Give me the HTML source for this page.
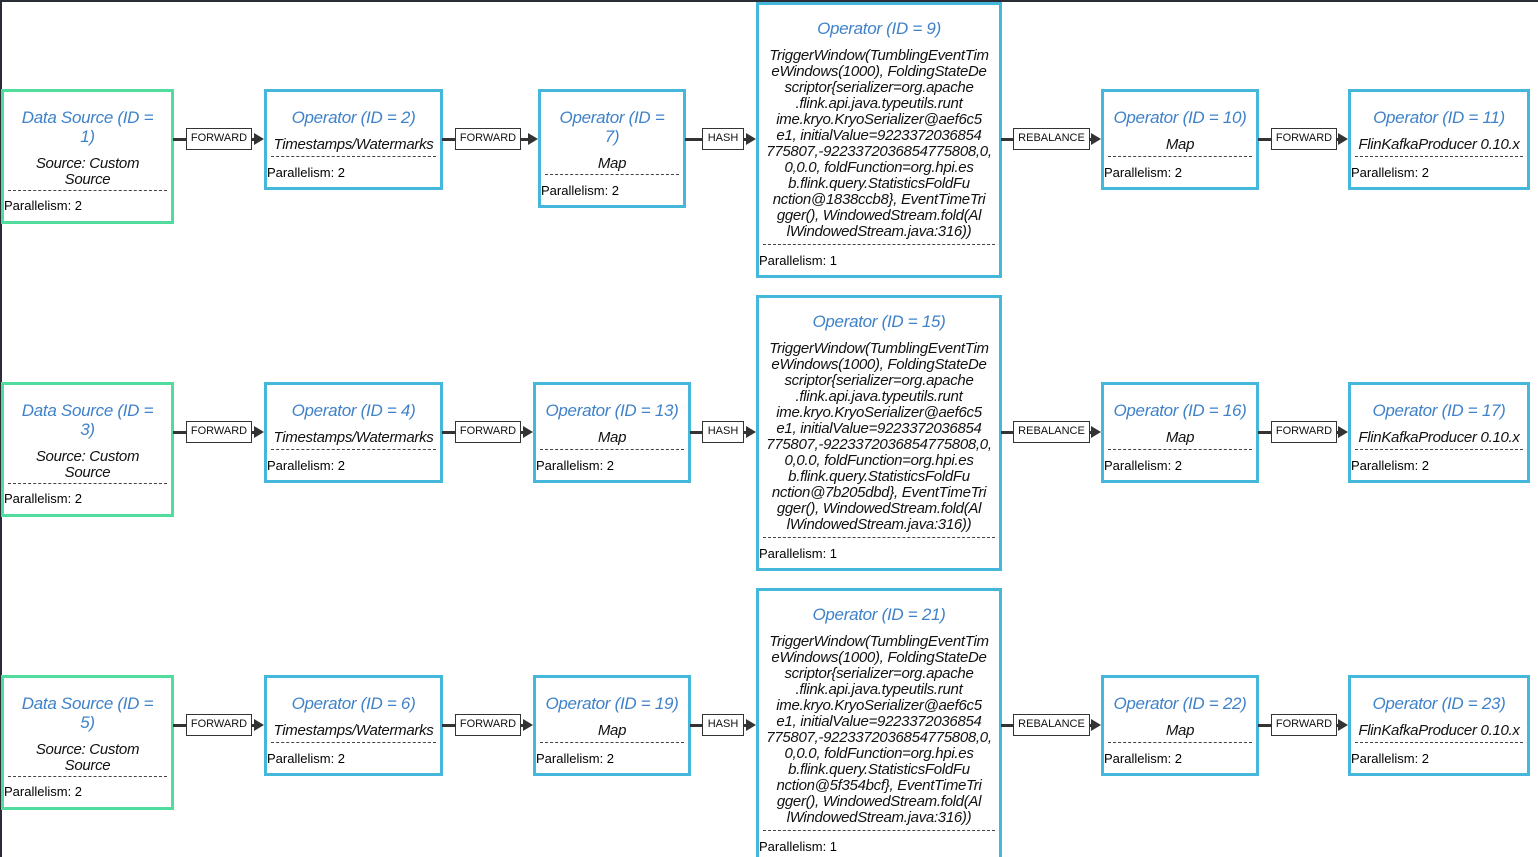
<!DOCTYPE html>
<html style="height:857px;overflow:hidden"><head><meta charset="utf-8"><style>
html,body{margin:0;padding:0}
body{width:1538px;height:857px;position:relative;overflow:hidden;background:#fff;font-family:"Liberation Sans",Arial,sans-serif}
.edge{position:absolute;background:#2a2d36}
.b{position:absolute;box-sizing:border-box;border:3px solid #45b7da;background:#fff;text-align:center;padding-top:16px}
.g{border-color:#4fdc9d}
.t{font-size:17px;line-height:19px;font-style:italic;color:#3f82c9;letter-spacing:-0.3px;white-space:nowrap}
.s{font-size:15px;line-height:16px;font-style:italic;color:#111;margin-top:10px;letter-spacing:-0.3px;white-space:nowrap}
.d{border-top:1px dashed #444;margin:3px 4px 0 4px}
.p{font-size:13px;line-height:14px;color:#000;text-align:left;padding-left:0px;margin-top:9px}
.ln{position:absolute;height:3px;background:#333}
.lb{position:absolute;box-sizing:border-box;border:1.5px solid #333;background:#fff;font-size:11px;height:22px;line-height:19px;text-align:center;color:#111}
.ar{position:absolute;width:0;height:0;border-top:6px solid transparent;border-bottom:6px solid transparent;border-left:10px solid #333}
</style></head><body>
<div class="edge" style="left:0;top:0;width:1538px;height:2px"></div>
<div class="edge" style="left:0;top:0;width:2px;height:857px"></div>

<div style="position:absolute;left:0;top:0;width:1538px;height:300px">
<div class="b g" style="left:1px;top:89px;width:173px;height:135px"><div class="t">Data Source (ID =<br>1)</div><div class="s">Source: Custom<br>Source</div><div class="d" style="margin-top:2px"></div><div class="p" style="margin-top:8px">Parallelism: 2</div></div>
<div class="b" style="left:264px;top:89px;width:179px;height:101px"><div class="t">Operator (ID = 2)</div><div class="s">Timestamps/Watermarks</div><div class="d"></div><div class="p">Parallelism: 2</div></div>
<div class="b" style="left:538px;top:89px;width:148px;height:119px"><div class="t">Operator (ID =<br>7)</div><div class="s">Map</div><div class="d" style="margin-top:2px"></div><div class="p">Parallelism: 2</div></div>
<div class="b" style="left:756px;top:2px;width:246px;height:276px;padding-top:14px"><div class="t">Operator (ID = 9)</div><div class="s">TriggerWindow(TumblingEventTim<br>eWindows(1000), FoldingStateDe<br>scriptor{serializer=org.apache<br>.flink.api.java.typeutils.runt<br>ime.kryo.KryoSerializer@aef6c5<br>e1, initialValue=9223372036854<br>775807,-9223372036854775808,0,<br>0,0.0, foldFunction=org.hpi.es<br>b.flink.query.StatisticsFoldFu<br>nction@1838ccb8}, EventTimeTri<br>gger(), WindowedStream.fold(Al<br>lWindowedStream.java:316))</div><div class="d" style="margin-top:4px"></div><div class="p" style="margin-top:9px">Parallelism: 1</div></div>
<div class="b" style="left:1101px;top:89px;width:158px;height:101px"><div class="t">Operator (ID = 10)</div><div class="s">Map</div><div class="d"></div><div class="p">Parallelism: 2</div></div>
<div class="b" style="left:1348px;top:89px;width:182px;height:101px"><div class="t">Operator (ID = 11)</div><div class="s">FlinKafkaProducer 0.10.x</div><div class="d"></div><div class="p">Parallelism: 2</div></div>
<div class="ln" style="left:173px;top:138px;width:82px"></div><div class="lb" style="left:186px;top:128px;width:66px">FORWARD</div><div class="ar" style="left:254px;top:133px"></div>
<div class="ln" style="left:442px;top:138px;width:86px"></div><div class="lb" style="left:455px;top:128px;width:66px">FORWARD</div><div class="ar" style="left:528px;top:133px"></div>
<div class="ln" style="left:685px;top:138px;width:62px"></div><div class="lb" style="left:702px;top:128px;width:42px">HASH</div><div class="ar" style="left:746px;top:133px"></div>
<div class="ln" style="left:1001px;top:138px;width:91px"></div><div class="lb" style="left:1013px;top:128px;width:77px">REBALANCE</div><div class="ar" style="left:1091px;top:133px"></div>
<div class="ln" style="left:1258px;top:138px;width:81px"></div><div class="lb" style="left:1271px;top:128px;width:66px">FORWARD</div><div class="ar" style="left:1338px;top:133px"></div>
</div>

<div style="position:absolute;left:0;top:293px;width:1538px;height:300px">
<div class="b g" style="left:1px;top:89px;width:173px;height:135px"><div class="t">Data Source (ID =<br>3)</div><div class="s">Source: Custom<br>Source</div><div class="d" style="margin-top:2px"></div><div class="p" style="margin-top:8px">Parallelism: 2</div></div>
<div class="b" style="left:264px;top:89px;width:179px;height:101px"><div class="t">Operator (ID = 4)</div><div class="s">Timestamps/Watermarks</div><div class="d"></div><div class="p">Parallelism: 2</div></div>
<div class="b" style="left:533px;top:89px;width:158px;height:101px"><div class="t">Operator (ID = 13)</div><div class="s">Map</div><div class="d"></div><div class="p">Parallelism: 2</div></div>
<div class="b" style="left:756px;top:2px;width:246px;height:276px;padding-top:14px"><div class="t">Operator (ID = 15)</div><div class="s">TriggerWindow(TumblingEventTim<br>eWindows(1000), FoldingStateDe<br>scriptor{serializer=org.apache<br>.flink.api.java.typeutils.runt<br>ime.kryo.KryoSerializer@aef6c5<br>e1, initialValue=9223372036854<br>775807,-9223372036854775808,0,<br>0,0.0, foldFunction=org.hpi.es<br>b.flink.query.StatisticsFoldFu<br>nction@7b205dbd}, EventTimeTri<br>gger(), WindowedStream.fold(Al<br>lWindowedStream.java:316))</div><div class="d" style="margin-top:4px"></div><div class="p" style="margin-top:9px">Parallelism: 1</div></div>
<div class="b" style="left:1101px;top:89px;width:158px;height:101px"><div class="t">Operator (ID = 16)</div><div class="s">Map</div><div class="d"></div><div class="p">Parallelism: 2</div></div>
<div class="b" style="left:1348px;top:89px;width:182px;height:101px"><div class="t">Operator (ID = 17)</div><div class="s">FlinKafkaProducer 0.10.x</div><div class="d"></div><div class="p">Parallelism: 2</div></div>
<div class="ln" style="left:173px;top:138px;width:82px"></div><div class="lb" style="left:186px;top:128px;width:66px">FORWARD</div><div class="ar" style="left:254px;top:133px"></div>
<div class="ln" style="left:442px;top:138px;width:82px"></div><div class="lb" style="left:455px;top:128px;width:66px">FORWARD</div><div class="ar" style="left:523px;top:133px"></div>
<div class="ln" style="left:690px;top:138px;width:57px"></div><div class="lb" style="left:702px;top:128px;width:42px">HASH</div><div class="ar" style="left:746px;top:133px"></div>
<div class="ln" style="left:1001px;top:138px;width:91px"></div><div class="lb" style="left:1013px;top:128px;width:77px">REBALANCE</div><div class="ar" style="left:1091px;top:133px"></div>
<div class="ln" style="left:1258px;top:138px;width:81px"></div><div class="lb" style="left:1271px;top:128px;width:66px">FORWARD</div><div class="ar" style="left:1338px;top:133px"></div>
</div>

<div style="position:absolute;left:0;top:586px;width:1538px;height:271px;overflow:hidden">
<div class="b g" style="left:1px;top:89px;width:173px;height:135px"><div class="t">Data Source (ID =<br>5)</div><div class="s">Source: Custom<br>Source</div><div class="d" style="margin-top:2px"></div><div class="p" style="margin-top:8px">Parallelism: 2</div></div>
<div class="b" style="left:264px;top:89px;width:179px;height:101px"><div class="t">Operator (ID = 6)</div><div class="s">Timestamps/Watermarks</div><div class="d"></div><div class="p">Parallelism: 2</div></div>
<div class="b" style="left:533px;top:89px;width:158px;height:101px"><div class="t">Operator (ID = 19)</div><div class="s">Map</div><div class="d"></div><div class="p">Parallelism: 2</div></div>
<div class="b" style="left:756px;top:2px;width:246px;height:290px;padding-top:14px"><div class="t">Operator (ID = 21)</div><div class="s">TriggerWindow(TumblingEventTim<br>eWindows(1000), FoldingStateDe<br>scriptor{serializer=org.apache<br>.flink.api.java.typeutils.runt<br>ime.kryo.KryoSerializer@aef6c5<br>e1, initialValue=9223372036854<br>775807,-9223372036854775808,0,<br>0,0.0, foldFunction=org.hpi.es<br>b.flink.query.StatisticsFoldFu<br>nction@5f354bcf}, EventTimeTri<br>gger(), WindowedStream.fold(Al<br>lWindowedStream.java:316))</div><div class="d" style="margin-top:4px"></div><div class="p" style="margin-top:9px">Parallelism: 1</div></div>
<div class="b" style="left:1101px;top:89px;width:158px;height:101px"><div class="t">Operator (ID = 22)</div><div class="s">Map</div><div class="d"></div><div class="p">Parallelism: 2</div></div>
<div class="b" style="left:1348px;top:89px;width:182px;height:101px"><div class="t">Operator (ID = 23)</div><div class="s">FlinKafkaProducer 0.10.x</div><div class="d"></div><div class="p">Parallelism: 2</div></div>
<div class="ln" style="left:173px;top:138px;width:82px"></div><div class="lb" style="left:186px;top:128px;width:66px">FORWARD</div><div class="ar" style="left:254px;top:133px"></div>
<div class="ln" style="left:442px;top:138px;width:82px"></div><div class="lb" style="left:455px;top:128px;width:66px">FORWARD</div><div class="ar" style="left:523px;top:133px"></div>
<div class="ln" style="left:690px;top:138px;width:57px"></div><div class="lb" style="left:702px;top:128px;width:42px">HASH</div><div class="ar" style="left:746px;top:133px"></div>
<div class="ln" style="left:1001px;top:138px;width:91px"></div><div class="lb" style="left:1013px;top:128px;width:77px">REBALANCE</div><div class="ar" style="left:1091px;top:133px"></div>
<div class="ln" style="left:1258px;top:138px;width:81px"></div><div class="lb" style="left:1271px;top:128px;width:66px">FORWARD</div><div class="ar" style="left:1338px;top:133px"></div>
</div>
</body></html>
